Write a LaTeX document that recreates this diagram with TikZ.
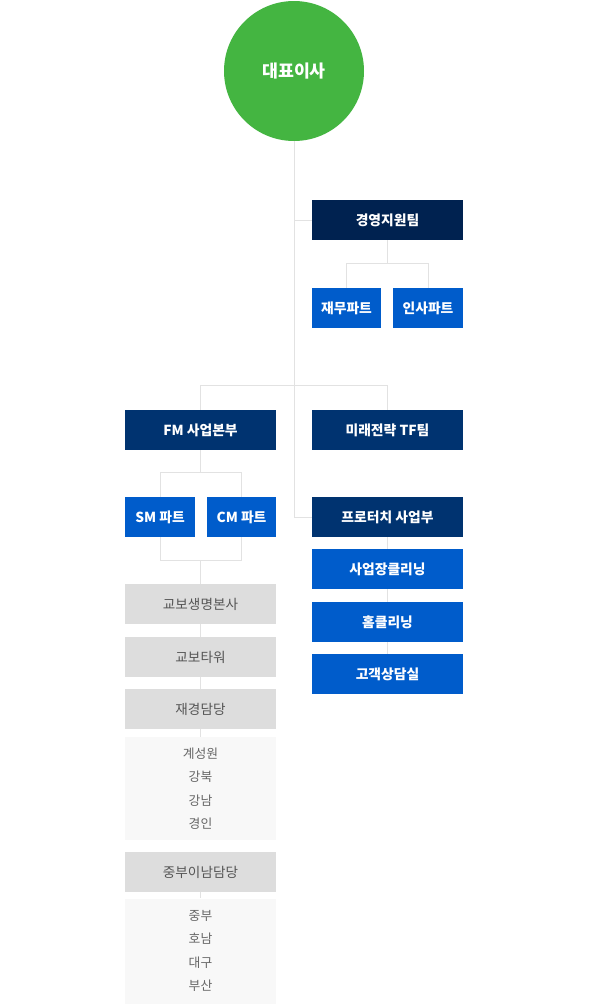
\documentclass[tikz,border=0pt]{standalone}
\usepackage{fontspec}
\setmainfont{Noto Sans CJK KR}
\definecolor{ceogreen}{HTML}{44B541}
\definecolor{darknavy}{HTML}{002250}
\definecolor{navy}{HTML}{003370}
\definecolor{blue}{HTML}{005CCB}
\definecolor{graybox}{HTML}{DDDDDD}
\definecolor{lightbox}{HTML}{F8F8F8}
\definecolor{linegray}{HTML}{E2E2E2}
\definecolor{graytext}{HTML}{555555}
\definecolor{listtext}{HTML}{666666}
\tikzset{
  box/.style={rectangle, inner sep=0pt, minimum height=40pt, minimum width=151pt, text=white, font=\fontsize{13.8}{15}\selectfont\bfseries},
  dbox/.style={box, fill=darknavy},
  nbox/.style={box, fill=navy},
  bbox/.style={box, fill=blue},
  sbox/.style={bbox, minimum width=70pt},
  gbox/.style={rectangle, inner sep=0pt, minimum height=40pt, minimum width=151pt, fill=graybox, text=graytext, font=\fontsize{13.6}{15}\selectfont},
  lbox/.style={rectangle, inner sep=0pt, minimum width=151pt, fill=lightbox, text=listtext, align=center, font=\fontsize{12.8}{23.5}\selectfont},
  conn/.style={draw=linegray, line width=1pt}
}
\begin{document}
\begin{tikzpicture}[x=1pt,y=-1pt]
\useasboundingbox[fill=white] (0,0) rectangle (590,1004);
\node[circle, fill=ceogreen, minimum size=140pt, inner sep=0pt, text=white, font=\fontsize{17.3}{19}\selectfont\bfseries] (ceo) at (294,71) {대표이사};
\node[dbox] (mgmt) at (387.5,220) {경영지원팀};
\node[sbox, minimum width=69pt] (fin) at (346.5,308) {재무파트};
\node[sbox] (hr) at (428,308) {인사파트};
\node[nbox] (fm) at (200.5,430) {FM 사업본부};
\node[nbox] (future) at (387.5,430) {미래전략 TF팀};
\node[sbox] (sm) at (160,517) {SM 파트};
\node[sbox, minimum width=69pt] (cm) at (241.5,517) {CM 파트};
\node[gbox] (kb1) at (200.5,604) {교보생명본사};
\node[gbox] (kb2) at (200.5,657) {교보타워};
\node[gbox] (jg) at (200.5,709) {재경담당};
\node[lbox, minimum height=103pt] (list1) at (200.5,788.5) {계성원\\강북\\강남\\경인};
\node[gbox] (mid) at (200.5,872) {중부이남담당};
\node[lbox, minimum height=105pt] (list2) at (200.5,951) {중부\\호남\\대구\\부산};
\node[nbox] (pt) at (387.5,517) {프로터치 사업부};
\node[bbox] (c1) at (387.5,569) {사업장클리닝};
\node[bbox] (c2) at (387.5,622) {홈클리닝};
\node[bbox] (c3) at (387.5,674) {고객상담실};
\coordinate (mgmtj) at (ceo.south |- mgmt.west);
% connectors
\draw[conn] (ceo.south) |- (pt.west);
\draw[conn] (mgmtj) -- (mgmt.west);
\draw[conn] (mgmt.south) -- ++(0,24);
\draw[conn] (fin.north) -- ++(0,-24) -| (hr.north);
\draw[conn] (fm.north) -- ++(0,-24) -| (future.north);
\draw[conn] (fm.south) -- ++(0,23);
\draw[conn] (sm.north) -- ++(0,-24) -| (cm.north);
\draw[conn] (sm.south) -- ++(0,23) -| (cm.south);
\draw[conn] (kb1.north) -- ++(0,-24);
\draw[conn] (kb1.south) -- (kb2.north);
\draw[conn] (kb2.south) -- (jg.north);
\draw[conn] (jg.south) -- (list1.north);
\draw[conn] (mid.south) -- (list2.north);
\draw[conn] (pt.south) -- (c1.north);
\draw[conn] (c1.south) -- (c2.north);
\draw[conn] (c2.south) -- (c3.north);
\end{tikzpicture}
\end{document}
